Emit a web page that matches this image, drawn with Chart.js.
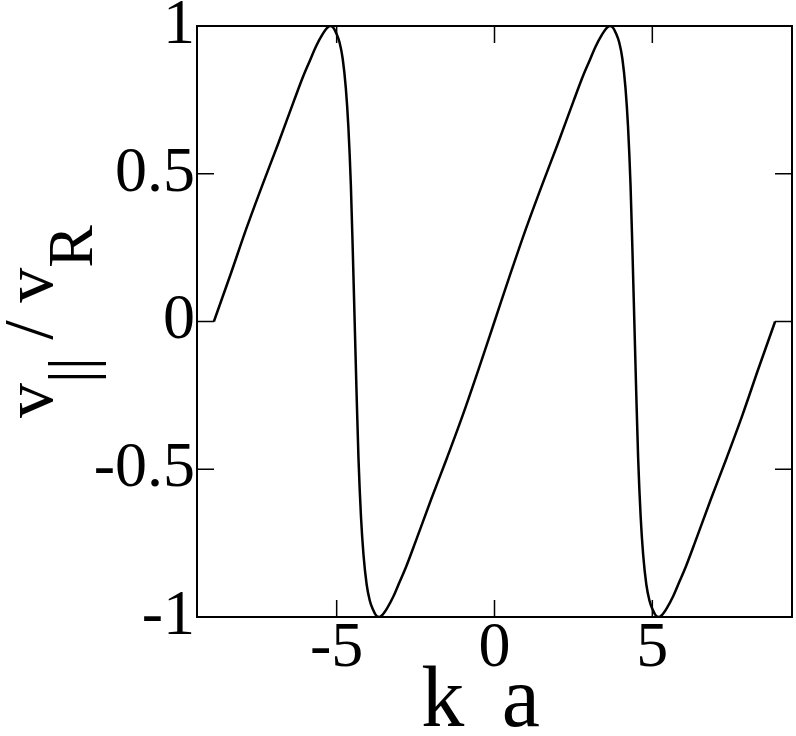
<!DOCTYPE html>
<html><head><meta charset="utf-8">
<script src="https://cdn.jsdelivr.net/npm/chart.js@4"></script>
<style>html,body{margin:0;padding:0;background:#fff}canvas{display:block}</style>
</head><body>
<canvas id="c" width="796" height="736"></canvas>
<script>
// k a values (x) and v_par / v_R values (y)
const kaValues = [
  -8.89, -8.36, -7.86, -7.36, -6.86, -6.36, -6.06, -5.86, -5.66, -5.46,
  -5.31, -5.21, -5.11, -5.01, -4.91, -4.81, -4.71, -4.63, -4.55, -4.49,
  -4.43, -4.37, -4.31, -4.23, -4.15, -4.05, -3.95, -3.85, -3.75, -3.65,
  -3.55, -3.40, -3.20, -3.00, -2.80, -2.50, -2.00, -1.50, -1.00, -0.50,
   0.00,  0.50,  1.00,  1.50,  2.00,  2.50,  2.80,  3.00,  3.20,  3.40,
   3.55,  3.65,  3.75,  3.85,  3.95,  4.05,  4.15,  4.23,  4.31,  4.37,
   4.43,  4.49,  4.55,  4.63,  4.71,  4.81,  4.91,  5.01,  5.11,  5.21,
   5.31,  5.46,  5.66,  5.86,  6.06,  6.36,  6.86,  7.36,  7.86,  8.36,
   8.89
];
const vValues = [
   0.000,  0.160,  0.315,  0.460,  0.600,  0.745,  0.830,  0.880,  0.930,  0.970,
   0.993,  1.000,  0.995,  0.975,  0.945,  0.890,  0.790,  0.660,  0.460,  0.240,
   0.000, -0.240, -0.460, -0.660, -0.790, -0.890, -0.945, -0.975, -0.995, -1.000,
  -0.993, -0.970, -0.930, -0.880, -0.830, -0.745, -0.600, -0.460, -0.315, -0.160,
   0.000,  0.160,  0.315,  0.460,  0.600,  0.745,  0.830,  0.880,  0.930,  0.970,
   0.993,  1.000,  0.995,  0.975,  0.945,  0.890,  0.790,  0.660,  0.460,  0.240,
   0.000, -0.240, -0.460, -0.660, -0.790, -0.890, -0.945, -0.975, -0.995, -1.000,
  -0.993, -0.970, -0.930, -0.880, -0.830, -0.745, -0.600, -0.460, -0.315, -0.160,
   0.000
];
const xTickValues = [-5, 0, 5];
const xTickLabels = ['-5', '0', '5'];
const yTickValues = [-1, -0.5, 0, 0.5, 1];
const yTickLabels = ['-1', '-0.5', '0', '0.5', '1'];
const xTitle = 'k a';
const yTitleParts = [['v', false], ['||', true], [' / v', false], ['R', true]];

const FONT = '"Liberation Serif", "Times New Roman", serif';

const frameAndTicks = {
  id: 'frameAndTicks',
  afterDraw(chart) {
    const {ctx, chartArea: a, scales: {x, y}} = chart;
    ctx.save();
    ctx.strokeStyle = '#000';
    ctx.lineWidth = 1.5;
    const L = 17;
    ctx.beginPath();
    x.ticks.forEach(t => {
      const px = x.getPixelForValue(t.value);
      ctx.moveTo(px, a.bottom); ctx.lineTo(px, a.bottom - L);
      ctx.moveTo(px, a.top); ctx.lineTo(px, a.top + L);
    });
    y.ticks.forEach(t => {
      const py = y.getPixelForValue(t.value);
      ctx.moveTo(a.left, py); ctx.lineTo(a.left + L, py);
      ctx.moveTo(a.right, py); ctx.lineTo(a.right - L, py);
    });
    ctx.stroke();
    ctx.lineWidth = 2;
    ctx.strokeRect(a.left, a.top, a.right - a.left, a.bottom - a.top);

    ctx.fillStyle = '#000';
    // x title (slightly left of centre, letter-spaced like the reference)
    ctx.save();
    ctx.font = '86px ' + FONT;
    try { ctx.letterSpacing = '8px'; } catch (e) {}
    ctx.textAlign = 'center';
    ctx.textBaseline = 'alphabetic';
    ctx.fillText(xTitle, (a.left + a.right) / 2 - 10, 726);
    ctx.restore();

    // rotated y title with subscripts
    const mainSize = 70, subSize = 64, subShift = 40;
    let total = 0;
    const widths = yTitleParts.map(([txt, sub]) => {
      ctx.font = (sub ? subSize : mainSize) + 'px ' + FONT;
      const w = ctx.measureText(txt).width; total += w; return w;
    });
    const cy = (a.top + a.bottom) / 2;
    ctx.translate(52, cy + total / 2);
    ctx.rotate(-Math.PI / 2);
    ctx.textBaseline = 'alphabetic';
    ctx.textAlign = 'left';
    let pos = 0;
    yTitleParts.forEach(([txt, sub], i) => {
      ctx.font = (sub ? subSize : mainSize) + 'px ' + FONT;
      ctx.fillText(txt, pos, sub ? subShift : 0);
      pos += widths[i];
    });
    ctx.restore();
  }
};

new Chart(document.getElementById('c'), {
  type: 'line',
  data: {
    datasets: [{
      data: kaValues.map((k, i) => ({x: k, y: vValues[i]})),
      borderColor: '#000',
      borderWidth: 2.5,
      pointRadius: 0,
      fill: false,
      cubicInterpolationMode: 'monotone'
    }]
  },
  options: {
    responsive: false,
    animation: false,
    layout: {padding: {top: 25, right: 4, left: 0, bottom: 0}},
    plugins: {legend: {display: false}, tooltip: {enabled: false}},
    scales: {
      x: {
        type: 'linear',
        min: -3 * Math.PI,
        max: 3 * Math.PI,
        afterBuildTicks: s => { s.ticks = xTickValues.map(v => ({value: v})); },
        afterFit: s => { s.height = 119; },
        grid: {display: false, drawTicks: false},
        border: {display: false},
        ticks: {
          padding: 8,
          color: '#000',
          font: {family: FONT, size: 64, lineHeight: 0.75},
          maxRotation: 0,
          callback: (v) => xTickLabels[xTickValues.indexOf(v)]
        }
      },
      y: {
        type: 'linear',
        min: -1,
        max: 1,
        afterBuildTicks: s => { s.ticks = yTickValues.map(v => ({value: v})); },
        afterFit: s => { s.width = 197; },
        grid: {display: false, drawTicks: false},
        border: {display: false},
        ticks: {
          padding: 2,
          color: '#000',
          font: {family: FONT, size: 64, lineHeight: 0.75},
          callback: (v) => yTickLabels[yTickValues.indexOf(v)]
        }
      }
    }
  },
  plugins: [frameAndTicks]
});
</script>
</body></html>
